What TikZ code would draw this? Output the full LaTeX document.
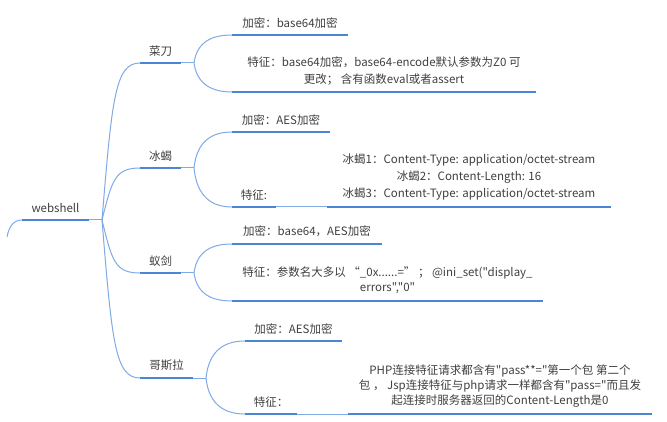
\documentclass[tikz,border=0pt]{standalone}
\usepackage{fontspec}
\setmainfont{Noto Sans CJK SC}[Ligatures=TeXOff]
\newcommand\dq{\char34\relax}
\definecolor{ulblue}{HTML}{4A86D4}
\definecolor{cnblue}{HTML}{7FAAE6}
\definecolor{txtgray}{HTML}{404040}
\begin{document}
\begin{tikzpicture}[x=1pt,y=-1pt,
  topic/.style={inner xsep=0pt, inner ysep=7pt, outer sep=0pt, anchor=south west,
    align=center, text=txtgray, font=\fontsize{11.5pt}{17pt}\selectfont},
  uline/.style={draw=ulblue, line width=2.8pt},
  conn/.style={draw=cnblue, line width=1pt}]
\useasboundingbox[fill=white] (0,0) rectangle (667,422);
% root
\node[topic, minimum width=67pt] (root) at (22,220) {webshell};
\coordinate (j0) at (102,220);
\coordinate (stub) at (7,237);
% level 1
\node[topic, minimum width=41pt] (cd) at (140,63) {菜刀};
\node[topic, minimum width=41pt] (bx) at (140,168) {冰蝎};
\node[topic, minimum width=41pt] (yj) at (140,273) {蚁剑};
\node[topic, minimum width=53pt] (gsl) at (140,378) {哥斯拉};
\coordinate (j1) at (194,63);
\coordinate (j2) at (194,168);
\coordinate (j3) at (194,273);
\coordinate (j4) at (206,378);
% level 2
\node[topic, minimum width=116pt] (cdjm) at (232,35) {加密：base64加密};
\node[topic, minimum width=304pt] (cdtz) at (232,92) {特征：base64加密，base64-encode默认参数为Z0 可\\更改； 含有函数eval或者assert};
\node[topic, minimum width=98pt] (bxjm) at (232,132) {加密：AES加密};
\node[topic, minimum width=44pt] (bxtz) at (232,207) {特征:};
\node[topic, minimum width=284pt] (bxc) at (327,207) {冰蝎1：Content-Type: application/octet-stream\\冰蝎2：Content-Length: 16\\冰蝎3：Content-Type: application/octet-stream};
\node[topic, minimum width=150pt] (yjjm) at (232,244) {加密：base64，AES加密};
\node[topic, minimum width=311pt] (yjtz) at (232,301) {特征：参数名大多以 “\_0x......=” ； @ini\_set(\dq display\_\\[-2pt]errors\dq,\dq 0\dq};
\node[topic, minimum width=97pt] (gsljm) at (245,341) {加密：AES加密};
\node[topic, minimum width=52pt] (gsltz) at (245,414) {特征：};
\node[topic, minimum width=304pt] (gslc) at (348,414) {PHP连接特征请求都含有\dq pass**=\dq 第一个包 第二个\\[-2pt]包 ， Jsp连接特征与php请求一样都含有\dq pass=\dq 而且发\\[-2pt]起连接时服务器返回的Content-Length是0};
% underlines
\foreach \n in {root,cd,bx,yj,gsl,cdjm,cdtz,bxjm,bxtz,bxc,yjjm,yjtz,gsljm,gsltz,gslc}
  \draw[uline] (\n.south west) -- (\n.south east);
% connectors
\draw[conn] (stub) .. controls +(2,-11) and +(-8,0) .. (root.south west);
\draw[conn] (root.south east) -- (j0);
\draw[conn] (j0) .. controls +(10,-121) and +(-25,0) .. (cd.south west);
\draw[conn] (j0) .. controls +(10,-40) and +(-25,0) .. (bx.south west);
\draw[conn] (j0) .. controls +(10,41) and +(-25,0) .. (yj.south west);
\draw[conn] (j0) .. controls +(10,122) and +(-25,0) .. (gsl.south west);
\draw[conn] (cd.south east) -- (j1);
\draw[conn] (bx.south east) -- (j2);
\draw[conn] (yj.south east) -- (j3);
\draw[conn] (gsl.south east) -- (j4);
\draw[conn] (j1) .. controls +(3,-22) and +(-19,0) .. (cdjm.south west);
\draw[conn] (j1) .. controls +(3,22) and +(-19,0) .. (cdtz.south west);
\draw[conn] (j2) .. controls +(3,-28) and +(-19,0) .. (bxjm.south west);
\draw[conn] (j2) .. controls +(3,30) and +(-19,0) .. (bxtz.south west);
\draw[conn] (j3) .. controls +(3,-23) and +(-19,0) .. (yjjm.south west);
\draw[conn] (j3) .. controls +(3,22) and +(-19,0) .. (yjtz.south west);
\draw[conn] (j4) .. controls +(3,-29) and +(-19,0) .. (gsljm.south west);
\draw[conn] (j4) .. controls +(3,28) and +(-19,0) .. (gsltz.south west);
\draw[conn] (bxtz.south east) -- (bxc.south west);
\draw[conn] (gsltz.south east) -- (gslc.south west);
\end{tikzpicture}
\end{document}
